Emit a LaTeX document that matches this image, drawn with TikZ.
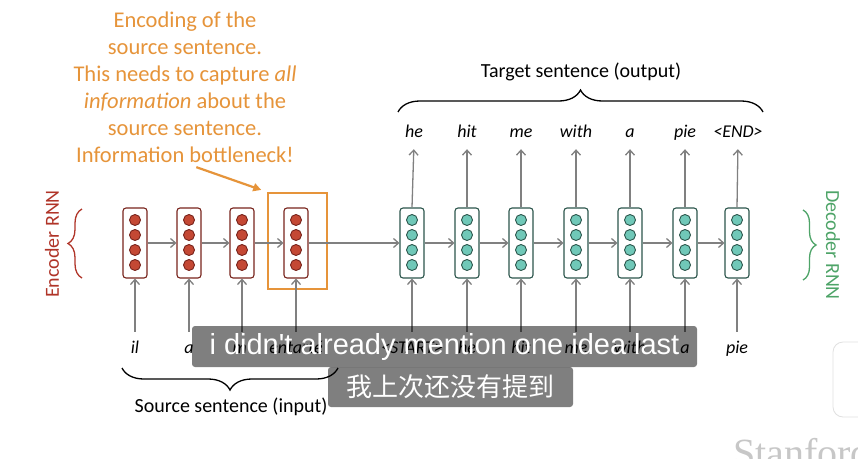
\documentclass[tikz,border=0pt]{standalone}
\usepackage{fontspec}
\setmainfont{Carlito}
\newfontfamily\cjkfont{Noto Sans CJK SC}
\newfontfamily\subfont{Liberation Sans}
\newfontfamily\wmfont{Liberation Serif}
\usetikzlibrary{arrows.meta,decorations.pathreplacing,calc}
\definecolor{encfill}{RGB}{196,72,52}
\definecolor{encline}{RGB}{120,36,28}
\definecolor{decfill}{RGB}{112,200,184}
\definecolor{decline}{RGB}{44,86,76}
\definecolor{arrgray}{RGB}{128,128,128}
\definecolor{orng}{RGB}{230,148,58}
\definecolor{encred}{RGB}{176,52,40}
\definecolor{decgreen}{RGB}{78,164,104}
\tikzset{
  cellbase/.style={draw, fill=white, rounded corners=3pt, line width=1.1pt,
    minimum width=24pt, minimum height=70pt, inner sep=0pt},
  enccell/.style={cellbase, draw=encline},
  deccell/.style={cellbase, draw=decline},
  encdot/.style={circle, draw=encline, fill=encfill, line width=0.9pt,
    minimum size=11pt, inner sep=0pt},
  decdot/.style={circle, draw=decline, fill=decfill, line width=0.9pt,
    minimum size=11pt, inner sep=0pt},
  arr/.style={draw=arrgray, line width=1.3pt, -{Straight Barb[length=5pt,width=9pt,line width=1.3pt]}},
  inword/.style={font=\fontsize{18}{18}\selectfont\itshape, anchor=base,
    text height=11pt, text depth=3pt, inner sep=2pt},
  outword/.style={font=\fontsize{18}{18}\selectfont\itshape, anchor=base,
    text height=11pt, text depth=3pt, inner sep=2pt},
  lbl/.style={font=\fontsize{20}{20}\selectfont},
  bracedeco/.style={decorate, line width=1.3pt},
  subbox/.style={fill=black, fill opacity=0.5, text opacity=1, text=white,
    rounded corners=3pt, inner sep=0pt},
}
\begin{document}
\begin{tikzpicture}[x=1pt,y=-1pt]
\useasboundingbox (0,0) rectangle (858,458);
\fill[white] (0,0) rectangle (858,458);

% encoder cells
\foreach \i/\x in {1/135,2/189,3/242,4/296}{
  \node[enccell] (e\i) at (\x,243) {};
  \foreach \j/\y in {1/220,2/235,3/250,4/265}{
    \node[encdot] (e\i d\j) at (\x,\y) {};
  }
}
% decoder cells
\foreach \i/\x in {1/412,2/467,3/521,4/576,5/630,6/685,7/737}{
  \node[deccell] (d\i) at (\x,243) {};
  \foreach \j/\y in {1/220,2/235,3/250,4/265}{
    \node[decdot] (d\i d\j) at (\x,\y) {};
  }
}

% orange bottleneck box
\node[draw=orng, line width=2.2pt, minimum width=59pt, minimum height=96pt, inner sep=0pt]
  (obox) at (297.5,241) {};

% recurrent arrows
\draw[arr] (e1.east) -- (e2.west);
\draw[arr] (e2.east) -- (e3.west);
\draw[arr] (e3.east) -- (e4.west);
\draw[arr] (e4.east) -- (d1.west);
\foreach \a/\b in {1/2,2/3,3/4,4/5,5/6,6/7}{
  \draw[arr] (d\a.east) -- (d\b.west);
}

% source words
\foreach \i/\x/\w in {1/135/il,2/189/a,3/242/m',4/296/entarté}{
  \node[inword] (s\i) at (\x,353) {\w};
  \draw[arr, shorten <=8pt] (s\i.north) -- (e\i.south);
}
% decoder input words
\foreach \i/\x/\w in {1/412/<START>,2/467/he,3/521/hit,4/576/me,5/630/with,6/685/a,7/737/pie}{
  \node[inword] (t\i) at (\x,353) {\w};
  \draw[arr, shorten <=8pt] (t\i.north) -- (d\i.south);
}
% decoder output words
\foreach \i/\x/\w in {1/414/he,2/467/hit,3/521/me,4/576/with,5/630/a,6/685/pie,7/738/<END>}{
  \node[outword] (o\i) at (\x,137) {\w};
  \draw[arr, shorten >=7pt] (d\i.north) -- (o\i.south);
}

% braces
\draw[bracedeco, decoration={brace, amplitude=22pt}] (398,112) -- (763,112);
\node[lbl] (tgt) at (581,72) {Target sentence (output)};
\draw[bracedeco, decoration={brace, amplitude=22pt, mirror}] (122,368) -- (338,368);
\node[lbl] (src) at (231,407) {Source sentence (input)};
\draw[bracedeco, draw=encred, decoration={brace, amplitude=14pt}] (82,278) -- (82,209);
\node[lbl, text=encred, rotate=90] (enclbl) at (52,244) {Encoder RNN};
\draw[bracedeco, draw=decgreen, decoration={brace, amplitude=13pt}] (803,210) -- (803,280);
\node[lbl, text=decgreen, rotate=-90] (declbl) at (833,245) {Decoder RNN};

% orange annotation
\node[font=\fontsize{22.5}{27}\selectfont, text=orng, align=center, anchor=north, inner sep=0pt]
  (note) at (185,12) {Encoding of the\\source sentence.\\This needs to capture \textit{all}\\\textit{information} about the\\source sentence.\\Information bottleneck!};
\draw[orng, line width=2.2pt, -{Triangle[length=8pt,width=8pt]}, shorten <=12pt, shorten >=6pt]
  (note.south) -- (obox.north west);

% watermark and UI
\node[font=\fontsize{40}{40}\selectfont\wmfont, text=black!22, anchor=base west, inner sep=0pt]
  (wm) at (733,466) {Stanford};
\draw[black!12, fill=white, rounded corners=10pt, line width=0.8pt] (833,342) rectangle (880,417);

% subtitles
\node[subbox, minimum width=505pt, minimum height=41pt, font=\fontsize{29}{29}\selectfont\subfont]
  (sub1) at (444.5,346.5) {i didn't already mention one idea last};
\node[subbox, minimum width=245pt, minimum height=40pt, font=\fontsize{26}{26}\selectfont\cjkfont]
  (sub2) at (450.5,387) {我上次还没有提到};
\end{tikzpicture}
\end{document}
